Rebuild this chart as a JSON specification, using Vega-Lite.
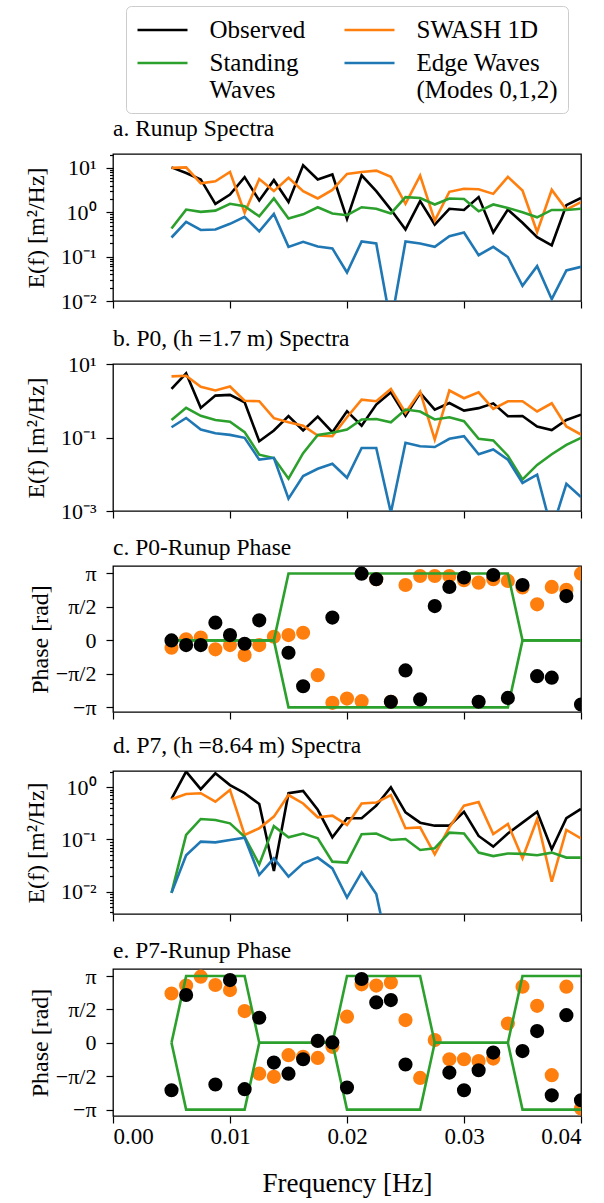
{
"$schema": "https://vega.github.io/schema/vega-lite/v6.json",
"padding": {"left": 23, "top": 5, "right": 10, "bottom": 5},
"spacing": 12,
"config": {
 "font": "Liberation Serif",
 "view": {"stroke": "#000000", "strokeWidth": 1.3},
 "axis": {"grid": false, "domain": false, "tickColor": "#000000", "labelColor": "#000000", "titleColor": "#000000", "labelFont": "Liberation Serif", "titleFont": "Liberation Serif", "labelFontSize": 22, "titleFontSize": 24, "titleFontWeight": "normal", "tickSize": 7, "tickWidth": 1.2, "labelPadding": 10, "titlePadding": 12, "labelOverlap": false},
 "title": {"font": "Liberation Serif", "fontSize": 23.5, "fontWeight": "normal", "anchor": "start", "offset": 3, "color": "#000000", "frame": "group"},
 "legend": {"orient": "none", "legendX": 13, "legendY": -148, "columns": 2, "symbolType": "M-2,0L2,0", "symbolSize": 625, "symbolOffset": 12.5, "symbolStrokeWidth": 2.6, "labelFont": "Liberation Serif", "labelFontSize": 25, "labelColor": "#000000", "labelLimit": 400, "labelOffset": 33, "columnPadding": 33, "rowPadding": 6, "strokeColor": "#cccccc", "cornerRadius": 5, "padding": 10, "fillColor": "#ffffff"}
},
"resolve": {"scale": {"x": "independent", "y": "independent", "color": "shared"}},
"datasets": {
 "spec": [
  {"p":"a","f":0.005,"O":10.3,"S":10,"W":0.43,"E":0.27},
  {"p":"a","f":0.00625,"O":7.7,"S":10.3,"W":1.15,"E":0.61},
  {"p":"a","f":0.0075,"O":5.5,"S":4.5,"W":1.02,"E":0.40},
  {"p":"a","f":0.00875,"O":1.55,"S":5.0,"W":1.09,"E":0.41},
  {"p":"a","f":0.01,"O":2.5,"S":8.1,"W":1.55,"E":0.55},
  {"p":"a","f":0.01125,"O":6.2,"S":0.98,"W":1.37,"E":0.79},
  {"p":"a","f":0.0125,"O":1.84,"S":5.6,"W":0.81,"E":0.37},
  {"p":"a","f":0.01375,"O":5.3,"S":3.0,"W":2.05,"E":0.92},
  {"p":"a","f":0.015,"O":1.7,"S":6.0,"W":0.72,"E":0.166},
  {"p":"a","f":0.01625,"O":11.5,"S":3.0,"W":0.9,"E":0.216},
  {"p":"a","f":0.0175,"O":5.5,"S":2.05,"W":1.3,"E":0.17},
  {"p":"a","f":0.01875,"O":7.1,"S":3.2,"W":0.94,"E":0.153},
  {"p":"a","f":0.02,"O":0.71,"S":7.3,"W":0.86,"E":0.044},
  {"p":"a","f":0.02125,"O":6.8,"S":8.1,"W":1.3,"E":0.22},
  {"p":"a","f":0.0225,"O":3.0,"S":8.7,"W":1.2,"E":0.198},
  {"p":"a","f":0.02375,"O":1.15,"S":6.3,"W":0.94,"E":0.003},
  {"p":"a","f":0.025,"O":0.41,"S":1.55,"W":2.2,"E":0.22},
  {"p":"a","f":0.02625,"O":1.78,"S":6.7,"W":2.1,"E":0.198},
  {"p":"a","f":0.0275,"O":0.53,"S":0.65,"W":1.5,"E":0.166},
  {"p":"a","f":0.02875,"O":1.2,"S":2.9,"W":2.05,"E":0.29},
  {"p":"a","f":0.03,"O":1.13,"S":3.4,"W":2.0,"E":0.35},
  {"p":"a","f":0.03125,"O":2.2,"S":3.3,"W":1.05,"E":0.108},
  {"p":"a","f":0.0325,"O":0.35,"S":2.6,"W":1.5,"E":0.166},
  {"p":"a","f":0.03375,"O":1.15,"S":6.3,"W":1.25,"E":0.098},
  {"p":"a","f":0.035,"O":0.58,"S":3.1,"W":1.0,"E":0.022},
  {"p":"a","f":0.03625,"O":0.275,"S":0.36,"W":0.77,"E":0.061},
  {"p":"a","f":0.0375,"O":0.18,"S":3.2,"W":1.13,"E":0.011},
  {"p":"a","f":0.03875,"O":1.45,"S":1.15,"W":1.13,"E":0.049},
  {"p":"a","f":0.04,"O":2.1,"S":1.7,"W":1.2,"E":0.059},
  {"p":"b","f":0.005,"O":2.1,"S":4.6,"W":0.30,"E":0.19},
  {"p":"b","f":0.00625,"O":5.6,"S":4.8,"W":0.64,"E":0.34},
  {"p":"b","f":0.0075,"O":0.64,"S":2.4,"W":0.39,"E":0.165},
  {"p":"b","f":0.00875,"O":1.38,"S":1.9,"W":0.30,"E":0.131},
  {"p":"b","f":0.01,"O":1.44,"S":2.45,"W":0.27,"E":0.118},
  {"p":"b","f":0.01125,"O":0.91,"S":1.0,"W":0.14,"E":0.098},
  {"p":"b","f":0.0125,"O":0.079,"S":0.97,"W":0.034,"E":0.025},
  {"p":"b","f":0.01375,"O":0.155,"S":0.335,"W":0.0275,"E":0.028},
  {"p":"b","f":0.015,"O":0.38,"S":0.26,"W":0.0076,"E":0.00216},
  {"p":"b","f":0.01625,"O":0.155,"S":0.21,"W":0.0376,"E":0.0089},
  {"p":"b","f":0.0175,"O":0.37,"S":0.113,"W":0.118,"E":0.0141},
  {"p":"b","f":0.01875,"O":0.14,"S":0.108,"W":0.134,"E":0.0193},
  {"p":"b","f":0.02,"O":0.52,"S":0.356,"W":0.165,"E":0.008},
  {"p":"b","f":0.02125,"O":0.21,"S":1.07,"W":0.31,"E":0.052},
  {"p":"b","f":0.0225,"O":0.79,"S":0.97,"W":0.32,"E":0.052},
  {"p":"b","f":0.02375,"O":1.7,"S":2.1,"W":0.26,"E":0.0009},
  {"p":"b","f":0.025,"O":0.39,"S":0.47,"W":0.575,"E":0.0716},
  {"p":"b","f":0.02625,"O":1.63,"S":1.77,"W":0.51,"E":0.058},
  {"p":"b","f":0.0275,"O":0.575,"S":0.088,"W":0.31,"E":0.055},
  {"p":"b","f":0.02875,"O":0.87,"S":1.9,"W":0.356,"E":0.092},
  {"p":"b","f":0.03,"O":0.54,"S":1.17,"W":0.277,"E":0.108},
  {"p":"b","f":0.03125,"O":0.63,"S":1.7,"W":0.092,"E":0.035},
  {"p":"b","f":0.0325,"O":0.85,"S":0.6,"W":0.083,"E":0.047},
  {"p":"b","f":0.03375,"O":0.38,"S":0.97,"W":0.032,"E":0.025},
  {"p":"b","f":0.035,"O":0.385,"S":0.97,"W":0.0072,"E":0.0058},
  {"p":"b","f":0.03625,"O":0.2,"S":0.51,"W":0.018,"E":0.0097},
  {"p":"b","f":0.0375,"O":0.16,"S":0.85,"W":0.035,"E":0.0003},
  {"p":"b","f":0.03875,"O":0.30,"S":0.2,"W":0.063,"E":0.0055},
  {"p":"b","f":0.04,"O":0.42,"S":0.12,"W":0.098,"E":0.0024},
  {"p":"d","f":0.005,"O":0.60,"S":0.59,"W":0.0095,"E":0.0095},
  {"p":"d","f":0.00625,"O":2.0,"S":0.745,"W":0.122,"E":0.050},
  {"p":"d","f":0.0075,"O":0.92,"S":0.77,"W":0.247,"E":0.091},
  {"p":"d","f":0.00875,"O":1.85,"S":0.53,"W":0.236,"E":0.088},
  {"p":"d","f":0.01,"O":1.1,"S":0.89,"W":0.204,"E":0.098},
  {"p":"d","f":0.01125,"O":0.77,"S":0.122,"W":0.113,"E":0.108},
  {"p":"d","f":0.0125,"O":0.48,"S":0.164,"W":0.0334,"E":0.021},
  {"p":"d","f":0.01375,"O":0.025,"S":0.274,"W":0.18,"E":0.0436},
  {"p":"d","f":0.015,"O":0.77,"S":0.71,"W":0.11,"E":0.0194},
  {"p":"d","f":0.01625,"O":0.85,"S":0.49,"W":0.13,"E":0.035},
  {"p":"d","f":0.0175,"O":0.37,"S":0.266,"W":0.105,"E":0.045},
  {"p":"d","f":0.01875,"O":0.11,"S":0.286,"W":0.0376,"E":0.028},
  {"p":"d","f":0.02,"O":0.255,"S":0.19,"W":0.036,"E":0.0077},
  {"p":"d","f":0.02125,"O":0.255,"S":0.49,"W":0.126,"E":0.0234},
  {"p":"d","f":0.0225,"O":0.445,"S":0.51,"W":0.13,"E":0.009},
  {"p":"d","f":0.02375,"O":1.0,"S":0.71,"W":0.098,"E":0.00046},
  {"p":"d","f":0.025,"O":0.33,"S":0.164,"W":0.102,"E":null},
  {"p":"d","f":0.02625,"O":0.21,"S":0.17,"W":0.063,"E":null},
  {"p":"d","f":0.0275,"O":0.184,"S":0.052,"W":0.068,"E":null},
  {"p":"d","f":0.02875,"O":0.184,"S":0.171,"W":0.135,"E":null},
  {"p":"d","f":0.03,"O":0.34,"S":0.445,"W":0.13,"E":null},
  {"p":"d","f":0.03125,"O":0.117,"S":0.52,"W":0.056,"E":null},
  {"p":"d","f":0.0325,"O":0.073,"S":0.127,"W":0.048,"E":null},
  {"p":"d","f":0.03375,"O":0.13,"S":0.198,"W":0.054,"E":null},
  {"p":"d","f":0.035,"O":0.21,"S":0.0436,"W":0.053,"E":null},
  {"p":"d","f":0.03625,"O":0.34,"S":0.244,"W":0.050,"E":null},
  {"p":"d","f":0.0375,"O":0.065,"S":0.0155,"W":0.056,"E":null},
  {"p":"d","f":0.03875,"O":0.255,"S":0.152,"W":0.045,"E":null},
  {"p":"d","f":0.04,"O":0.385,"S":0.105,"W":0.045,"E":null}
 ],
 "ph": [
  {"p":"c","f":0.005,"O":0.0,"S":-0.34},
  {"p":"c","f":0.00625,"O":-0.22,"S":0.05},
  {"p":"c","f":0.0075,"O":-0.22,"S":0.13},
  {"p":"c","f":0.00875,"O":0.83,"S":-0.42},
  {"p":"c","f":0.01,"O":0.25,"S":-0.22},
  {"p":"c","f":0.01125,"O":-0.16,"S":-0.69},
  {"p":"c","f":0.0125,"O":0.94,"S":-0.22},
  {"p":"c","f":0.01375,"O":null,"S":0.17},
  {"p":"c","f":0.015,"O":-0.58,"S":0.25},
  {"p":"c","f":0.01625,"O":-2.15,"S":0.36},
  {"p":"c","f":0.0175,"O":null,"S":-1.63},
  {"p":"c","f":0.01875,"O":1.07,"S":-2.93},
  {"p":"c","f":0.02,"O":null,"S":-2.73},
  {"p":"c","f":0.02125,"O":3.13,"S":-2.85},
  {"p":"c","f":0.0225,"O":2.87,"S":2.87},
  {"p":"c","f":0.02375,"O":-2.88,"S":-2.88},
  {"p":"c","f":0.025,"O":-1.41,"S":2.60},
  {"p":"c","f":0.02625,"O":-2.77,"S":3.02},
  {"p":"c","f":0.0275,"O":1.61,"S":3.02},
  {"p":"c","f":0.02875,"O":2.51,"S":3.02},
  {"p":"c","f":0.03,"O":2.95,"S":2.82},
  {"p":"c","f":0.03125,"O":-2.88,"S":2.71},
  {"p":"c","f":0.0325,"O":3.07,"S":2.87},
  {"p":"c","f":0.03375,"O":-2.70,"S":2.79},
  {"p":"c","f":0.035,"O":2.60,"S":2.48},
  {"p":"c","f":0.03625,"O":-1.68,"S":1.69},
  {"p":"c","f":0.0375,"O":-1.75,"S":2.51},
  {"p":"c","f":0.03875,"O":2.08,"S":2.37},
  {"p":"c","f":0.04,"O":-3.01,"S":3.13},
  {"p":"e","f":0.005,"O":-2.23,"S":2.32},
  {"p":"e","f":0.00625,"O":2.25,"S":2.69},
  {"p":"e","f":0.0075,"O":null,"S":3.11},
  {"p":"e","f":0.00875,"O":-1.96,"S":2.72},
  {"p":"e","f":0.01,"O":2.95,"S":2.48},
  {"p":"e","f":0.01125,"O":-2.18,"S":1.49},
  {"p":"e","f":0.0125,"O":1.18,"S":-1.45},
  {"p":"e","f":0.01375,"O":-0.93,"S":-1.60},
  {"p":"e","f":0.015,"O":-1.45,"S":-0.58},
  {"p":"e","f":0.01625,"O":-0.77,"S":-0.66},
  {"p":"e","f":0.0175,"O":0.09,"S":-0.71},
  {"p":"e","f":0.01875,"O":0.02,"S":-0.19},
  {"p":"e","f":0.02,"O":-2.10,"S":1.23},
  {"p":"e","f":0.02125,"O":3.0,"S":2.75},
  {"p":"e","f":0.0225,"O":1.90,"S":2.69},
  {"p":"e","f":0.02375,"O":2.01,"S":2.84},
  {"p":"e","f":0.025,"O":-1.02,"S":1.07},
  {"p":"e","f":0.02625,"O":null,"S":-1.65},
  {"p":"e","f":0.0275,"O":null,"S":0.13},
  {"p":"e","f":0.02875,"O":-1.40,"S":-0.77},
  {"p":"e","f":0.03,"O":-2.23,"S":-0.77},
  {"p":"e","f":0.03125,"O":-1.29,"S":-0.86},
  {"p":"e","f":0.0325,"O":-0.46,"S":-0.74},
  {"p":"e","f":0.03375,"O":null,"S":0.91},
  {"p":"e","f":0.035,"O":-0.39,"S":2.64},
  {"p":"e","f":0.03625,"O":0.55,"S":1.74},
  {"p":"e","f":0.0375,"O":-2.47,"S":-1.52},
  {"p":"e","f":0.03875,"O":1.30,"S":2.64},
  {"p":"e","f":0.04,"O":-2.70,"S":-3.09}
 ],
 "gr": [
  {"p":"c","f":0.005,"u":0,"d":0},
  {"p":"c","f":0.01375,"u":0,"d":0},
  {"p":"c","f":0.015,"u":3.1416,"d":-3.1416},
  {"p":"c","f":0.03375,"u":3.1416,"d":-3.1416},
  {"p":"c","f":0.035,"u":0,"d":0},
  {"p":"c","f":0.04,"u":0,"d":0},
  {"p":"e","f":0.005,"u":0,"d":0},
  {"p":"e","f":0.00625,"u":3.1416,"d":-3.1416},
  {"p":"e","f":0.01125,"u":3.1416,"d":-3.1416},
  {"p":"e","f":0.0125,"u":0,"d":0},
  {"p":"e","f":0.01875,"u":0,"d":0},
  {"p":"e","f":0.02,"u":3.1416,"d":-3.1416},
  {"p":"e","f":0.02625,"u":3.1416,"d":-3.1416},
  {"p":"e","f":0.0275,"u":0,"d":0},
  {"p":"e","f":0.03375,"u":0,"d":0},
  {"p":"e","f":0.035,"u":3.1416,"d":-3.1416},
  {"p":"e","f":0.04,"u":3.1416,"d":-3.1416}
 ]
},
"vconcat": [
 {
  "width": 468, "height": 147,
  "title": {"text": "a. Runup Spectra"},
  "data": {"name": "spec"},
  "transform": [{"filter": "datum.p == 'a'"}, {"fold": ["O","S","W","E"], "as": ["k","v"]}, {"filter": "isValid(datum.v)"}],
  "mark": {"type": "line", "strokeWidth": 2.6, "clip": true},
  "encoding": {
   "x": {"field": "f", "type": "quantitative", "scale": {"domain": [0, 0.04], "nice": false, "zero": false}, "axis": {"values": [0, 0.01, 0.02, 0.03, 0.04], "labels": false, "title": null}},
   "y": {"field": "v", "type": "quantitative", "scale": {"type": "log", "domain": [0.01, 20.6], "nice": false}, "axis": {"title": "E(f) [m²/Hz]", "labelOverlap": false, "values": [0.01,0.02,0.03,0.04,0.05,0.06,0.07,0.08,0.09,0.1,0.2,0.3,0.4,0.5,0.6,0.7,0.8,0.9,1,2,3,4,5,6,7,8,9,10,20], "labelExpr": "abs(log(datum.value)/LN10 - round(log(datum.value)/LN10)) > 0.01 ? '' : round(log(datum.value)/LN10) == 1 ? '10¹' : round(log(datum.value)/LN10) == 0 ? '10⁰' : round(log(datum.value)/LN10) == -1 ? '10⁻¹' : round(log(datum.value)/LN10) == -2 ? '10⁻²' : '10⁻³'", "tickSize": {"condition": {"test": "abs(log(datum.value)/LN10 - round(log(datum.value)/LN10)) < 0.01", "value": 7}, "value": 3.5}}},
   "color": {"field": "k", "type": "nominal", "scale": {"domain": ["O","W","S","E"], "range": ["#000000","#2ca02c","#ff7f0e","#1f77b4"]}, "legend": {"title": null, "labelExpr": "datum.value == 'O' ? 'Observed' : datum.value == 'S' ? 'SWASH 1D' : datum.value == 'W' ? ['Standing', 'Waves'] : ['Edge Waves', '(Modes 0,1,2)']"}}
  }
 },
 {
  "width": 468, "height": 147,
  "title": {"text": "b. P0, (h =1.7 m) Spectra"},
  "data": {"name": "spec"},
  "transform": [{"filter": "datum.p == 'b'"}, {"fold": ["O","S","W","E"], "as": ["k","v"]}, {"filter": "isValid(datum.v)"}],
  "mark": {"type": "line", "strokeWidth": 2.6, "clip": true},
  "encoding": {
   "x": {"field": "f", "type": "quantitative", "scale": {"domain": [0, 0.04], "nice": false, "zero": false}, "axis": {"values": [0, 0.01, 0.02, 0.03, 0.04], "labels": false, "title": null}},
   "y": {"field": "v", "type": "quantitative", "scale": {"type": "log", "domain": [0.001, 10], "nice": false}, "axis": {"title": "E(f) [m²/Hz]", "labelOverlap": false, "values": [0.001, 0.1, 10], "labelExpr": "datum.value > 5 ? '10¹' : datum.value > 0.05 ? '10⁻¹' : '10⁻³'"}},
   "color": {"field": "k", "type": "nominal", "scale": {"domain": ["O","W","S","E"], "range": ["#000000","#2ca02c","#ff7f0e","#1f77b4"]}, "legend": {"title": null, "labelExpr": "datum.value == 'O' ? 'Observed' : datum.value == 'S' ? 'SWASH 1D' : datum.value == 'W' ? ['Standing', 'Waves'] : ['Edge Waves', '(Modes 0,1,2)']"}}
  }
 },
 {
  "width": 468, "height": 146,
  "title": {"text": "c. P0-Runup Phase"},
  "layer": [
   {"data": {"name": "ph"}, "transform": [{"filter": "datum.p == 'c' && isValid(datum.S)"}],
    "mark": {"type": "circle", "size": 200, "opacity": 1, "color": "#ff7f0e", "clip": true},
    "encoding": {
     "x": {"field": "f", "type": "quantitative", "scale": {"domain": [0, 0.04], "nice": false, "zero": false}, "axis": {"values": [0, 0.01, 0.02, 0.03, 0.04], "labels": false, "title": null}},
     "y": {"field": "S", "type": "quantitative", "scale": {"domain": [-3.36, 3.49], "nice": false, "zero": false}, "axis": {"title": "Phase [rad]", "titlePadding": 3, "labelOverlap": false, "values": [-3.14, -1.57, 0, 1.57, 3.14], "labelExpr": "datum.value > 3 ? 'π' : datum.value > 1 ? 'π/2' : datum.value > -1 ? '0' : datum.value > -3 ? '−π/2' : '−π'"}}
    }},
   {"data": {"name": "gr"}, "transform": [{"filter": "datum.p == 'c'"}],
    "mark": {"type": "line", "color": "#2ca02c", "strokeWidth": 2.6, "clip": true},
    "encoding": {
     "x": {"field": "f", "type": "quantitative", "axis": {"values": [0, 0.01, 0.02, 0.03, 0.04], "labels": false, "title": null}},
     "y": {"field": "u", "type": "quantitative", "axis": {"title": "Phase [rad]", "titlePadding": 3, "labelOverlap": false, "values": [-3.14, -1.57, 0, 1.57, 3.14], "labelExpr": "datum.value > 3 ? 'π' : datum.value > 1 ? 'π/2' : datum.value > -1 ? '0' : datum.value > -3 ? '−π/2' : '−π'"}}
    }},
   {"data": {"name": "gr"}, "transform": [{"filter": "datum.p == 'c'"}],
    "mark": {"type": "line", "color": "#2ca02c", "strokeWidth": 2.6, "clip": true},
    "encoding": {
     "x": {"field": "f", "type": "quantitative", "axis": {"values": [0, 0.01, 0.02, 0.03, 0.04], "labels": false, "title": null}},
     "y": {"field": "d", "type": "quantitative", "axis": {"title": "Phase [rad]", "titlePadding": 3, "labelOverlap": false, "values": [-3.14, -1.57, 0, 1.57, 3.14], "labelExpr": "datum.value > 3 ? 'π' : datum.value > 1 ? 'π/2' : datum.value > -1 ? '0' : datum.value > -3 ? '−π/2' : '−π'"}}
    }},
   {"data": {"name": "ph"}, "transform": [{"filter": "datum.p == 'c' && isValid(datum.O)"}],
    "mark": {"type": "circle", "size": 200, "opacity": 1, "color": "#000000", "clip": true},
    "encoding": {
     "x": {"field": "f", "type": "quantitative", "axis": {"values": [0, 0.01, 0.02, 0.03, 0.04], "labels": false, "title": null}},
     "y": {"field": "O", "type": "quantitative", "axis": {"title": "Phase [rad]", "titlePadding": 3, "labelOverlap": false, "values": [-3.14, -1.57, 0, 1.57, 3.14], "labelExpr": "datum.value > 3 ? 'π' : datum.value > 1 ? 'π/2' : datum.value > -1 ? '0' : datum.value > -3 ? '−π/2' : '−π'"}}
    }}
  ]
 },
 {
  "width": 468, "height": 143,
  "title": {"text": "d. P7, (h =8.64 m) Spectra"},
  "data": {"name": "spec"},
  "transform": [{"filter": "datum.p == 'd'"}, {"fold": ["O","S","W","E"], "as": ["k","v"]}, {"filter": "isValid(datum.v)"}],
  "mark": {"type": "line", "strokeWidth": 2.6, "clip": true},
  "encoding": {
   "x": {"field": "f", "type": "quantitative", "scale": {"domain": [0, 0.04], "nice": false, "zero": false}, "axis": {"values": [0, 0.01, 0.02, 0.03, 0.04], "labels": false, "title": null}},
   "y": {"field": "v", "type": "quantitative", "scale": {"type": "log", "domain": [0.00374, 2.05], "nice": false}, "axis": {"title": "E(f) [m²/Hz]", "labelOverlap": false, "values": [0.004,0.005,0.006,0.007,0.008,0.009,0.01,0.02,0.03,0.04,0.05,0.06,0.07,0.08,0.09,0.1,0.2,0.3,0.4,0.5,0.6,0.7,0.8,0.9,1,2], "labelExpr": "abs(log(datum.value)/LN10 - round(log(datum.value)/LN10)) > 0.01 ? '' : round(log(datum.value)/LN10) == 1 ? '10¹' : round(log(datum.value)/LN10) == 0 ? '10⁰' : round(log(datum.value)/LN10) == -1 ? '10⁻¹' : round(log(datum.value)/LN10) == -2 ? '10⁻²' : '10⁻³'", "tickSize": {"condition": {"test": "abs(log(datum.value)/LN10 - round(log(datum.value)/LN10)) < 0.01", "value": 7}, "value": 3.5}}},
   "color": {"field": "k", "type": "nominal", "scale": {"domain": ["O","W","S","E"], "range": ["#000000","#2ca02c","#ff7f0e","#1f77b4"]}, "legend": {"title": null, "labelExpr": "datum.value == 'O' ? 'Observed' : datum.value == 'S' ? 'SWASH 1D' : datum.value == 'W' ? ['Standing', 'Waves'] : ['Edge Waves', '(Modes 0,1,2)']"}}
  }
 },
 {
  "width": 468, "height": 147,
  "title": {"text": "e. P7-Runup Phase"},
  "layer": [
   {"data": {"name": "ph"}, "transform": [{"filter": "datum.p == 'e' && isValid(datum.S)"}],
    "mark": {"type": "circle", "size": 200, "opacity": 1, "color": "#ff7f0e", "clip": true},
    "encoding": {
     "x": {"field": "f", "type": "quantitative", "scale": {"domain": [0, 0.04], "nice": false, "zero": false}, "axis": {"values": [0, 0.01, 0.02, 0.03, 0.04], "format": ".2f", "title": "Frequency [Hz]", "titleFontSize": 27, "labelFontSize": 23, "labelPadding": 2, "titlePadding": 22}},
     "y": {"field": "S", "type": "quantitative", "scale": {"domain": [-3.44, 3.47], "nice": false, "zero": false}, "axis": {"title": "Phase [rad]", "titlePadding": 3, "labelOverlap": false, "values": [-3.14, -1.57, 0, 1.57, 3.14], "labelExpr": "datum.value > 3 ? 'π' : datum.value > 1 ? 'π/2' : datum.value > -1 ? '0' : datum.value > -3 ? '−π/2' : '−π'"}}
    }},
   {"data": {"name": "gr"}, "transform": [{"filter": "datum.p == 'e'"}],
    "mark": {"type": "line", "color": "#2ca02c", "strokeWidth": 2.6, "clip": true},
    "encoding": {
     "x": {"field": "f", "type": "quantitative", "axis": {"values": [0, 0.01, 0.02, 0.03, 0.04], "format": ".2f", "title": "Frequency [Hz]", "titleFontSize": 27, "labelFontSize": 23, "labelPadding": 2, "titlePadding": 22}},
     "y": {"field": "u", "type": "quantitative", "axis": {"title": "Phase [rad]", "titlePadding": 3, "labelOverlap": false, "values": [-3.14, -1.57, 0, 1.57, 3.14], "labelExpr": "datum.value > 3 ? 'π' : datum.value > 1 ? 'π/2' : datum.value > -1 ? '0' : datum.value > -3 ? '−π/2' : '−π'"}}
    }},
   {"data": {"name": "gr"}, "transform": [{"filter": "datum.p == 'e'"}],
    "mark": {"type": "line", "color": "#2ca02c", "strokeWidth": 2.6, "clip": true},
    "encoding": {
     "x": {"field": "f", "type": "quantitative", "axis": {"values": [0, 0.01, 0.02, 0.03, 0.04], "format": ".2f", "title": "Frequency [Hz]", "titleFontSize": 27, "labelFontSize": 23, "labelPadding": 2, "titlePadding": 22}},
     "y": {"field": "d", "type": "quantitative", "axis": {"title": "Phase [rad]", "titlePadding": 3, "labelOverlap": false, "values": [-3.14, -1.57, 0, 1.57, 3.14], "labelExpr": "datum.value > 3 ? 'π' : datum.value > 1 ? 'π/2' : datum.value > -1 ? '0' : datum.value > -3 ? '−π/2' : '−π'"}}
    }},
   {"data": {"name": "ph"}, "transform": [{"filter": "datum.p == 'e' && isValid(datum.O)"}],
    "mark": {"type": "circle", "size": 200, "opacity": 1, "color": "#000000", "clip": true},
    "encoding": {
     "x": {"field": "f", "type": "quantitative", "axis": {"values": [0, 0.01, 0.02, 0.03, 0.04], "format": ".2f", "title": "Frequency [Hz]", "titleFontSize": 27, "labelFontSize": 23, "labelPadding": 2, "titlePadding": 22}},
     "y": {"field": "O", "type": "quantitative", "axis": {"title": "Phase [rad]", "titlePadding": 3, "labelOverlap": false, "values": [-3.14, -1.57, 0, 1.57, 3.14], "labelExpr": "datum.value > 3 ? 'π' : datum.value > 1 ? 'π/2' : datum.value > -1 ? '0' : datum.value > -3 ? '−π/2' : '−π'"}}
    }}
  ]
 }
]
}
